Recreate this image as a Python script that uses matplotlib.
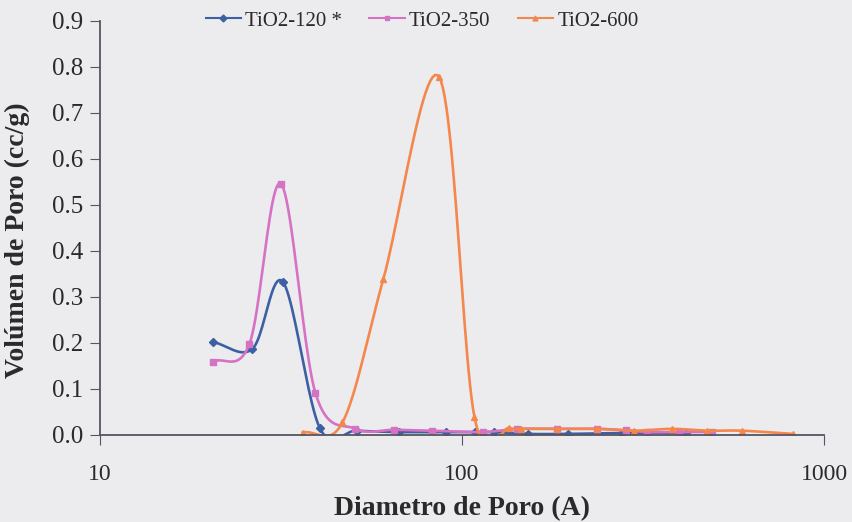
import numpy as np
import matplotlib
matplotlib.use("Agg")
import matplotlib.pyplot as plt

# pore diameter (A) and pore volume (cc/g)
d_120 = [20.5, 26.4, 32.0, 40.5, 51.2, 67.2, 90.1, 109, 123, 152.6, 196.7, 277, 416]
v_120 = [0.202, 0.187, 0.333, 0.015, 0.009, 0.006, 0.006, 0.006, 0.006, 0.002, 0.002, 0.004, 0.004]

d_350 = [20.5, 25.9, 31.6, 39.4, 50.8, 65.1, 82.9, 114, 142, 183, 236.5, 284, 325, 398, 491]
v_350 = [0.159, 0.198, 0.546, 0.091, 0.013, 0.011, 0.009, 0.006, 0.013, 0.013, 0.013, 0.010, 0.006, 0.006, 0.006]

d_600 = [36.3, 46.8, 60.7, 86.5, 108.3, 135, 146, 183, 236.5, 299, 381, 475, 594, 821]
v_600 = [0.005, 0.027, 0.339, 0.778, 0.039, 0.015, 0.013, 0.013, 0.013, 0.009, 0.013, 0.009, 0.009, 0.002]

labels = ["TiO2-120 *", "TiO2-350", "TiO2-600"]
colors = ["#3d60a4", "#d672c4", "#f4874c"]
markers = ["D", "s", "^"]

yticks = np.arange(0, 0.91, 0.1)


def smooth(x, y, n=24):
    # Catmull-Rom curve through the points in log-x space (like Excel's smoothed line)
    lx = np.log10(np.asarray(x, float))
    y = np.asarray(y, float)
    px = np.concatenate([[2 * lx[0] - lx[1]], lx, [2 * lx[-1] - lx[-2]]])
    py = np.concatenate([[2 * y[0] - y[1]], y, [2 * y[-1] - y[-2]]])
    t = np.linspace(0, 1, n)
    xs, ys = [], []
    for i in range(1, len(px) - 2):
        for arr, out in ((px, xs), (py, ys)):
            p0, p1, p2, p3 = arr[i - 1], arr[i], arr[i + 1], arr[i + 2]
            out.append(0.5 * (2 * p1 + (-p0 + p2) * t
                              + (2 * p0 - 5 * p1 + 4 * p2 - p3) * t ** 2
                              + (-p0 + 3 * p1 - 3 * p2 + p3) * t ** 3))
    return 10 ** np.concatenate(xs), np.concatenate(ys)


plt.rcParams["font.family"] = ["Liberation Serif", "DejaVu Serif"]

fig = plt.figure(figsize=(8.53, 5.22), dpi=100, facecolor="#ececef")
ax = fig.add_axes([0.117, 0.167, 0.849, 0.793])
ax.set_facecolor("#ececef")

series = [(d_120, v_120), (d_350, v_350), (d_600, v_600)]
for (d, v), lab, c, m in zip(series, labels, colors, markers):
    sx, sy = smooth(d, v)
    ax.plot(sx, sy, color=c, lw=1.9)
    ax.plot(d, v, ls="none", marker=m, color=c, ms=4.5)
    ax.plot([], [], color=c, lw=1.5, marker=m, ms=3.5, label=lab)

ax.set_xscale("log")
ax.set_xlim(10, 1000)
ax.set_ylim(0, 0.9)
ax.set_yticks(yticks)
ax.set_yticklabels([f"{v:.1f}" for v in yticks])
ax.set_xticks([10, 100, 1000])
ax.set_xticklabels(["10", "100", "1000"])
ax.minorticks_off()

for s in ["top", "right"]:
    ax.spines[s].set_visible(False)
for s in ["left", "bottom"]:
    ax.spines[s].set_color("#555560")
    ax.spines[s].set_linewidth(1.3)
ax.tick_params(axis="both", direction="out", length=7, color="#555560",
               labelsize=17, labelcolor="#2a2a2a")
ax.tick_params(axis="y", labelsize=18, pad=5)
ax.tick_params(axis="x", pad=14)

ax.set_xlabel("Diametro de Poro (A)", fontsize=20, fontweight="bold", color="#2a2a2a")
ax.set_ylabel("Volúmen de Poro (cc/g)", fontsize=20, fontweight="bold", color="#2a2a2a")
ax.xaxis.set_label_coords(0.5, -0.148)
ax.yaxis.set_label_coords(-0.097, 0.47)

ax.legend(loc="center", bbox_to_anchor=(0.445, 1.0), ncol=3, frameon=False,
          fontsize=15, handlelength=1.7, columnspacing=1.3, handletextpad=0.2,
          labelcolor="#2a2a2a")

fig.savefig("out.png", dpi=100, facecolor=fig.get_facecolor())
